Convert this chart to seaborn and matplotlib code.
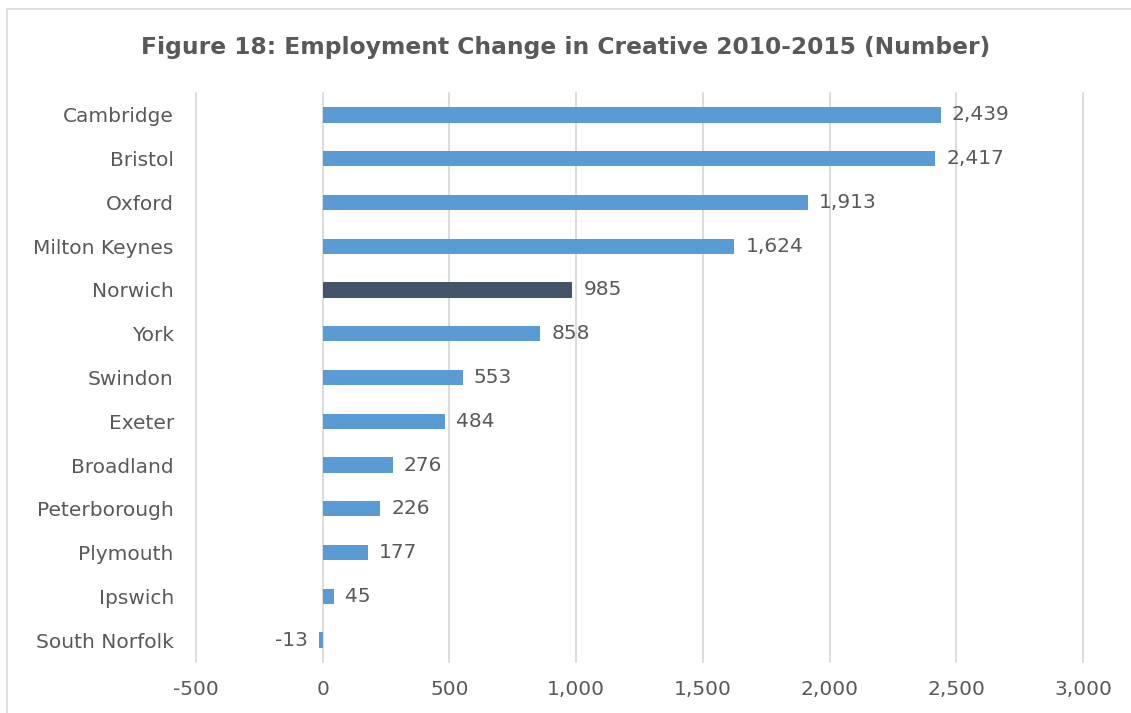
import matplotlib
matplotlib.use("Agg")
import matplotlib.pyplot as plt
import seaborn as sns
import pandas as pd
from matplotlib.patches import Rectangle

categories = ["Cambridge", "Bristol", "Oxford", "Milton Keynes", "Norwich", "York",
              "Swindon", "Exeter", "Broadland", "Peterborough", "Plymouth", "Ipswich",
              "South Norfolk"]
values = [2439, 2417, 1913, 1624, 985, 858, 553, 484, 276, 226, 177, 45, -13]
highlight = "Norwich"
xticks = [-500, 0, 500, 1000, 1500, 2000, 2500, 3000]

sns.set_theme(style="white")
plt.rcParams['font.family'] = ['DejaVu Sans']
txt = "#595959"
fs = 14.5

df = pd.DataFrame({"area": categories, "value": values})
df["grp"] = ["hl" if c == highlight else "base" for c in categories]

fig = plt.figure(figsize=(11.31, 7.13), dpi=100)
ax = fig.add_axes([0.1733, 0.0715, 0.7843, 0.7981])

sns.barplot(data=df, y="area", x="value", hue="grp", orient="h", dodge=False,
            palette={"base": "#5B9BD5", "hl": "#44546A"}, width=0.35,
            saturation=1, linewidth=0, legend=False, ax=ax, order=categories)

ax.set_xlim(-500, 3000)
ax.set_ylim(len(categories) - 0.5, -0.5)
ax.set_xticks(xticks)
ax.set_xticklabels([f"{t:,}" for t in xticks], color=txt, fontsize=fs)
ax.tick_params(axis="y", labelsize=fs, labelcolor=txt, length=0, pad=16)
ax.tick_params(axis="x", length=0, pad=13)
ax.set_xlabel("")
ax.set_ylabel("")
ax.xaxis.grid(True, color="#D9D9D9", linewidth=1.3)
for gl in ax.get_xgridlines():
    gl.set_clip_on(False)
ax.set_axisbelow(True)
for s in ax.spines.values():
    s.set_visible(False)

for i, v in enumerate(values):
    if v >= 0:
        ax.annotate(f"{v:,}", (v, i), xytext=(8, 0), textcoords="offset points",
                    ha="left", va="center", color=txt, fontsize=fs)
    else:
        ax.annotate(f"{v:,}", (v, i), xytext=(-8, 0), textcoords="offset points",
                    ha="right", va="center", color=txt, fontsize=fs)

fig.text(0.5, 0.934, "Figure 18: Employment Change in Creative 2010-2015 (Number)",
         ha="center", va="center", fontsize=16.8, fontweight="bold", color=txt)

fig.patches.append(Rectangle((0.0062, -0.01), 1.1, 0.998, transform=fig.transFigure,
                             fill=False, edgecolor="#D9D9D9", linewidth=1.2))

fig.savefig("out.png", dpi=100)
